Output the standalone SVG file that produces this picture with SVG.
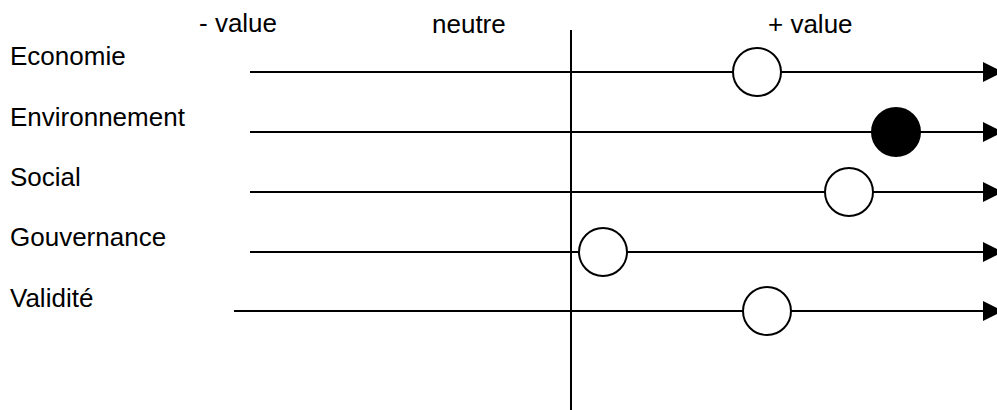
<svg xmlns="http://www.w3.org/2000/svg" width="997" height="410" viewBox="0 0 997 410">
<style>
text{font-family:"Liberation Sans",Arial,sans-serif;font-size:26px;fill:#000}
.ax{stroke:#000;stroke-width:2;fill:none}
.c{stroke:#000;stroke-width:2;fill:#fff}
.cf{stroke:#000;stroke-width:2;fill:#000}
</style>
<defs>
<marker id="ah" markerUnits="userSpaceOnUse" markerWidth="20" markerHeight="20" refX="0" refY="10" orient="auto" viewBox="0 0 20 20">
<path d="M0,0 L20,10 L0,20 Z" fill="#000"/>
</marker>
</defs>
<g id="header">
<text x="199" y="32">- value</text>
<text x="432" y="33">neutre</text>
<text x="768" y="33">+ value</text>
</g>
<g id="labels">
<text x="10" y="65">Economie</text>
<text x="10" y="126">Environnement</text>
<text x="10" y="186">Social</text>
<text x="10" y="246">Gouvernance</text>
<text x="10" y="307">Validité</text>
</g>
<g id="connectors">
<line class="ax" x1="571" y1="30" x2="571" y2="410"/>
<line class="ax" x1="250" y1="72" x2="983" y2="72" marker-end="url(#ah)"/>
<line class="ax" x1="250" y1="132" x2="983" y2="132" marker-end="url(#ah)"/>
<line class="ax" x1="250" y1="192" x2="983" y2="192" marker-end="url(#ah)"/>
<line class="ax" x1="250" y1="252" x2="983" y2="252" marker-end="url(#ah)"/>
<line class="ax" x1="234" y1="311" x2="983" y2="311" marker-end="url(#ah)"/>
</g>
<g id="node-economie"><circle class="c" cx="757" cy="72" r="24"/></g>
<g id="node-environnement"><circle class="cf" cx="896" cy="132" r="24"/></g>
<g id="node-social"><circle class="c" cx="849" cy="192" r="24"/></g>
<g id="node-gouvernance"><circle class="c" cx="603" cy="252" r="24"/></g>
<g id="node-validite"><circle class="c" cx="767" cy="311" r="24"/></g>
</svg>
